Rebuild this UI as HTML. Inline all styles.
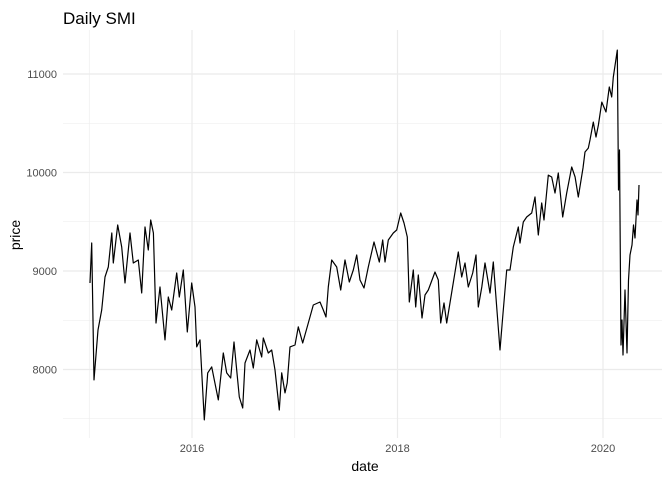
<!DOCTYPE html>
<html><head><meta charset="utf-8"><style>
body{margin:0;background:#fff;}
svg text{font-family:"Liberation Sans",sans-serif;}
</style></head><body>
<svg id="chart" width="672" height="480" xmlns="http://www.w3.org/2000/svg">
<rect width="672" height="480" fill="#fff"/>
<g id="grid"></g>
<g id="axes"></g>
<path id="line" fill="none" stroke="#000" stroke-width="1.2" stroke-linejoin="round"/>
<text x="63" y="24" font-size="17" fill="#000">Daily SMI</text>
<text x="365" y="471" font-size="14" text-anchor="middle" fill="#000">date</text>
<text transform="translate(20,235) rotate(-90)" font-size="14" text-anchor="middle" fill="#000">price</text>
</svg>
<script>
const years = [2015.007,2015.024,2015.046,2015.085,2015.121,2015.153,2015.185,2015.219,2015.234,2015.277,2015.316,2015.348,2015.397,2015.429,2015.477,2015.510,2015.543,2015.575,2015.598,2015.624,2015.650,2015.689,2015.737,2015.769,2015.802,2015.851,2015.876,2015.915,2015.954,2015.997,2016.029,2016.046,2016.078,2016.120,2016.153,2016.192,2016.256,2016.305,2016.338,2016.377,2016.409,2016.460,2016.493,2016.516,2016.564,2016.597,2016.630,2016.678,2016.694,2016.743,2016.776,2016.808,2016.850,2016.873,2016.905,2016.927,2016.954,2017.002,2017.035,2017.077,2017.132,2017.181,2017.246,2017.278,2017.304,2017.327,2017.360,2017.408,2017.447,2017.489,2017.531,2017.570,2017.603,2017.635,2017.674,2017.716,2017.771,2017.823,2017.856,2017.878,2017.910,2017.959,2017.992,2018.031,2018.063,2018.095,2018.115,2018.154,2018.177,2018.202,2018.238,2018.268,2018.300,2018.365,2018.397,2018.420,2018.453,2018.479,2018.527,2018.592,2018.625,2018.657,2018.689,2018.732,2018.764,2018.786,2018.820,2018.852,2018.900,2018.932,2018.965,2018.998,2019.024,2019.063,2019.095,2019.127,2019.176,2019.192,2019.224,2019.257,2019.306,2019.338,2019.370,2019.403,2019.426,2019.468,2019.501,2019.533,2019.565,2019.608,2019.647,2019.695,2019.728,2019.760,2019.805,2019.825,2019.857,2019.873,2019.906,2019.932,2019.955,2019.988,2020.029,2020.061,2020.085,2020.100,2020.139,2020.151,2020.161,2020.175,2020.185,2020.195,2020.214,2020.234,2020.248,2020.263,2020.282,2020.297,2020.311,2020.331,2020.341,2020.350];
const prices = [8878,9284,7894,8401,8604,8939,9041,9386,9081,9467,9244,8878,9386,9081,9112,8777,9447,9213,9518,9386,8472,8838,8300,8736,8604,8980,8736,9010,8381,8878,8635,8229,8300,7488,7965,8026,7691,8168,7965,7914,8279,7721,7609,8066,8198,8015,8300,8127,8320,8168,8198,7995,7589,7965,7762,7863,8229,8249,8432,8269,8472,8655,8685,8604,8533,8838,9112,9041,8807,9112,8888,9010,9162,8909,8827,9041,9294,9091,9315,9091,9315,9386,9416,9589,9487,9345,8685,9010,8635,8959,8523,8756,8807,8990,8909,8472,8675,8472,8777,9193,8939,9081,8838,8980,9162,8635,8838,9081,8777,9091,8635,8198,8533,9010,9010,9244,9447,9284,9497,9548,9589,9751,9365,9690,9518,9974,9954,9792,9995,9548,9792,10056,9954,9751,10046,10208,10248,10330,10512,10360,10482,10715,10614,10868,10766,10969,11243,9822,10228,8249,8503,8147,8807,8168,8909,9162,9264,9467,9335,9721,9569,9873];
const yTicks = [8000,9000,10000,11000];
const yMinor = [7500,8500,9500,10500];
const xTicks = [2016,2018,2020];
const xMinor = [2015,2017,2019];

const NS="http://www.w3.org/2000/svg";
const PL=63, PR=662, PT=30, PB=438;
function xs(y){return 192+(y-2016)*102.75;}
function ys(p){return 271-(p-9000)*0.0985;}
const grid=document.getElementById('grid'), axes=document.getElementById('axes');
function ln(g,x1,y1,x2,y2,w,name){
  const l=document.createElementNS(NS,'line');
  l.setAttribute('x1',x1);l.setAttribute('y1',y1);l.setAttribute('x2',x2);l.setAttribute('y2',y2);
  l.setAttribute('stroke','#ebebeb');l.setAttribute('stroke-width',w);
  
  
  g.appendChild(l);
}
function tx(x,y,s,anchor,name){
  const t=document.createElementNS(NS,'text');
  t.setAttribute('x',x);t.setAttribute('y',y);t.setAttribute('font-size','11');
  t.setAttribute('fill','#4d4d4d');t.setAttribute('text-anchor',anchor);t.textContent=s;
  
  
  axes.appendChild(t);
}
yMinor.forEach(v=>{ln(grid,PL,ys(v),PR,ys(v),0.6,'y-minor-gridline');});
xMinor.forEach(v=>{ln(grid,xs(v),PT,xs(v),PB,0.6,'x-minor-gridline');});
yTicks.forEach(v=>{ln(grid,PL,ys(v),PR,ys(v),1.2,'y-major-gridline');tx(57,ys(v)+4,String(v),'end','y-tick-label');});
xTicks.forEach(v=>{ln(grid,xs(v),PT,xs(v),PB,1.2,'x-major-gridline');tx(xs(v),452,String(v),'middle','x-tick-label');});
let d='';
years.forEach((y,i)=>{d+=(i?'L':'M')+xs(y).toFixed(1)+','+ys(prices[i]).toFixed(1);});
document.getElementById('line').setAttribute('d',d);
</script>
</body></html>
